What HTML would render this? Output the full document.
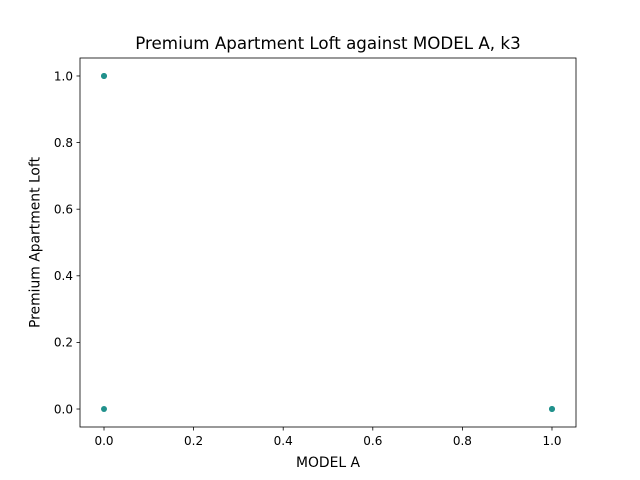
<!DOCTYPE html>
<html><head><meta charset="utf-8">
<style>
html,body{margin:0;padding:0;background:#fff;}
svg{display:block;font-family:"DejaVu Sans","Liberation Sans",sans-serif;}
</style></head>
<body>
<svg id="chart" width="640" height="480" viewBox="0 0 640 480">
<rect width="640" height="480" fill="#fff"/>
<text x="328" y="49" font-size="16.7" text-anchor="middle">Premium Apartment Loft against MODEL A, k3</text>
<g id="ticks"></g>
<g id="points"></g>
<rect x="80" y="58" width="496" height="369" fill="none" stroke="#000" stroke-width="0.8"/>
<text x="328" y="467" font-size="13.9" text-anchor="middle">MODEL A</text>
<text transform="translate(39.5,242.5) rotate(-90)" font-size="13.9" text-anchor="middle">Premium Apartment Loft</text>
</svg>
<script>
const xValues = [0, 0, 1, 0, 1];
const yValues = [1, 0, 0, 1, 0];
const xTicks = [0, 0.2, 0.4, 0.6, 0.8, 1.0];
const yTicks = [0, 0.2, 0.4, 0.6, 0.8, 1.0];
const xMin=-0.0536,xMax=1.0536,yMin=-0.054,yMax=1.054;
const L=80,R=576,T=58,B=427;
const xs=v=>L+(v-xMin)/(xMax-xMin)*(R-L);
const ys=v=>B-(v-yMin)/(yMax-yMin)*(B-T);
const NS='http://www.w3.org/2000/svg';
const tg=document.getElementById('ticks');
xTicks.forEach(t=>{
  const x=xs(t);
  const l=document.createElementNS(NS,'line');
  l.setAttribute('x1',x);l.setAttribute('x2',x);l.setAttribute('y1',B);l.setAttribute('y2',B+3.5);
  l.setAttribute('stroke','#000');l.setAttribute('stroke-width','0.8');
  
  
  tg.appendChild(l);
  const tx=document.createElementNS(NS,'text');
  tx.setAttribute('x',x);tx.setAttribute('y',B+18);tx.setAttribute('font-size','12');tx.setAttribute('text-anchor','middle');
  tx.textContent=t.toFixed(1);
  
  
  tg.appendChild(tx);
});
yTicks.forEach(t=>{
  const y=ys(t);
  const l=document.createElementNS(NS,'line');
  l.setAttribute('x1',L-3.5);l.setAttribute('x2',L);l.setAttribute('y1',y);l.setAttribute('y2',y);
  l.setAttribute('stroke','#000');l.setAttribute('stroke-width','0.8');
  
  
  tg.appendChild(l);
  const tx=document.createElementNS(NS,'text');
  tx.setAttribute('x',L-7);tx.setAttribute('y',y+4.3);tx.setAttribute('font-size','12');tx.setAttribute('text-anchor','end');
  tx.textContent=t.toFixed(1);
  
  
  tg.appendChild(tx);
});
const pg=document.getElementById('points');
xValues.forEach((v,i)=>{
  const c=document.createElementNS(NS,'circle');
  c.setAttribute('cx',xs(v));c.setAttribute('cy',ys(yValues[i]));c.setAttribute('r','3');
  c.setAttribute('fill','#21918c');
  
  
  pg.appendChild(c);
});
</script>
</body></html>
